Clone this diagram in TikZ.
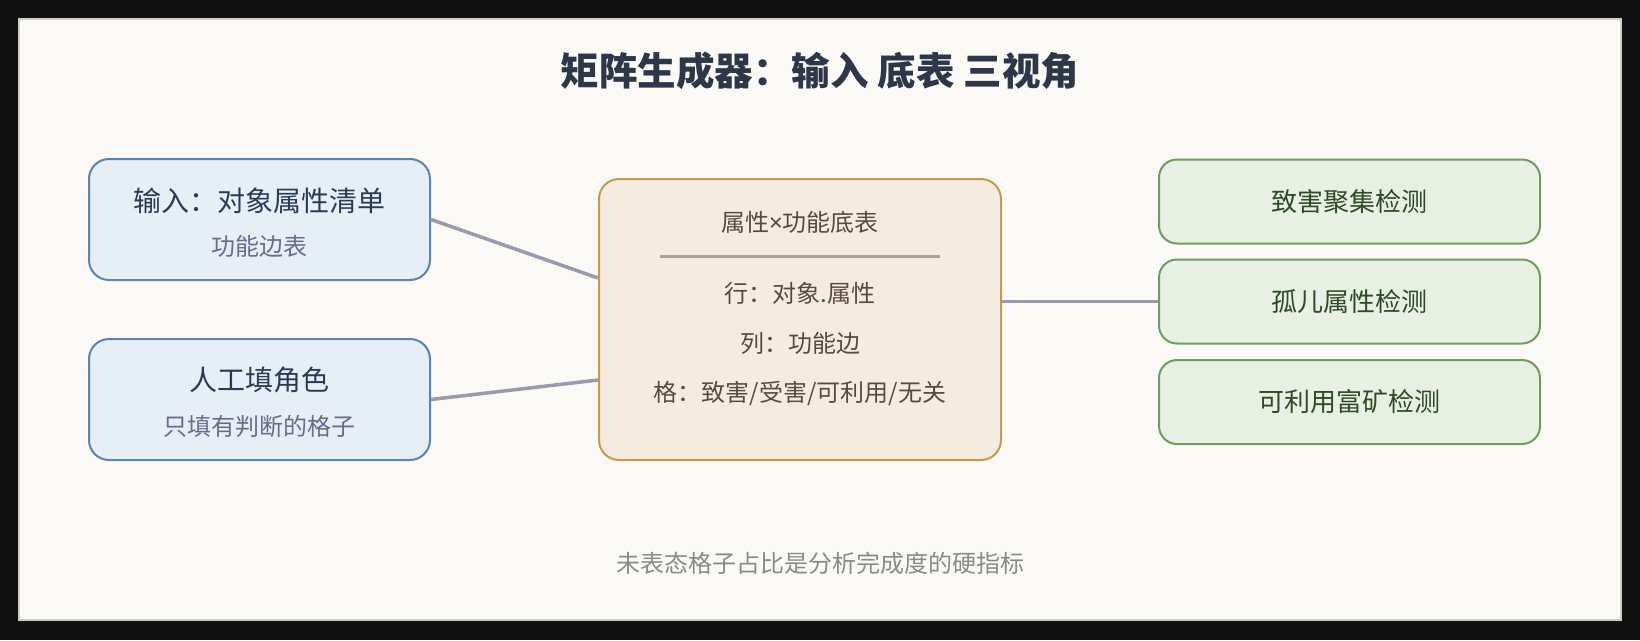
\documentclass[tikz,border=0pt]{standalone}
\usepackage{fontspec}
\setmainfont{Noto Sans CJK SC}
\newfontfamily\latinsans{Noto Sans}
\usetikzlibrary{positioning,calc}
\definecolor{bgdark}{HTML}{111111}
\definecolor{paper}{HTML}{FAF9F5}
\definecolor{frame}{HTML}{CFCCC4}
\definecolor{titlec}{HTML}{2D3748}
\definecolor{bluefill}{HTML}{E6EEF6}
\definecolor{blueline}{HTML}{5B84B1}
\definecolor{bluetext}{HTML}{2A3B55}
\definecolor{bluesub}{HTML}{6B6B8A}
\definecolor{tanfill}{HTML}{F5ECE1}
\definecolor{tanline}{HTML}{C49A50}
\definecolor{tantext}{HTML}{5A4A3C}
\definecolor{sepc}{HTML}{B0A292}
\definecolor{greenfill}{HTML}{E7F0E2}
\definecolor{greenline}{HTML}{6E9D5E}
\definecolor{greentext}{HTML}{2F4A25}
\definecolor{wire}{HTML}{9A9AAF}
\definecolor{notec}{HTML}{8A8A8A}
\tikzset{
  inbox/.style={draw=blueline, fill=bluefill, line width=2pt, rounded corners=20pt,
    minimum width=341pt, minimum height=121pt, inner sep=0pt},
  midbox/.style={draw=tanline, fill=tanfill, line width=2pt, rounded corners=20pt,
    minimum width=402pt, minimum height=281pt, inner sep=0pt},
  outbox/.style={draw=greenline, fill=greenfill, line width=2pt, rounded corners=18pt,
    minimum width=381pt, minimum height=84pt, inner sep=0pt, text=greentext,
    font=\fontsize{26}{30}\selectfont},
  wirec/.style={draw=wire, line width=3.5pt},
  maintxt/.style={text=bluetext, font=\fontsize{28}{32}\selectfont, inner sep=0pt},
  subtxt/.style={text=bluesub, font=\fontsize{24}{28}\selectfont, inner sep=0pt},
  midtxt/.style={text=tantext, font=\fontsize{24}{28}\selectfont, inner sep=0pt},
}
\begin{document}
\begin{tikzpicture}[x=1pt,y=-1pt]
\useasboundingbox (0,0) rectangle (1640,640);
\fill[bgdark] (0,0) rectangle (1640,640);
\draw[fill=paper, draw=frame, line width=1.5pt] (19,19) rectangle (1621,620);

\node[text=titlec, font=\fontsize{38.5}{42}\selectfont\bfseries, inner sep=0pt] (title) at (820,71) {矩阵生成器：输入 底表 三视角};

\node[inbox] (in1) at (259.5,219.5) {};
\node[maintxt] (in1a) at (259.5,201) {输入：对象属性清单};
\node[subtxt] (in1b) at (259.5,246) {功能边表};

\node[inbox] (in2) at (259.5,399.5) {};
\node[maintxt] (in2a) at (259.5,380) {人工填角色};
\node[subtxt] (in2b) at (259.5,426) {只填有判断的格子};

\node[midbox] (mid) at (800,319.5) {};
\node[midtxt] (midh) at (800,222) {属性{\latinsans ×}功能底表};
\coordinate (sepl) at (660,256);
\coordinate (sepr) at (940,256);
\draw[draw=sepc, line width=3pt] (sepl) -- (sepr);
\node[midtxt] (row) at (800,293) {行：对象.属性};
\node[midtxt] (col) at (800,343) {列：功能边};
\node[midtxt] (cell) at (800,393) {格：致害/受害/可利用/无关};

\node[outbox] (o1) at (1349.5,201.5) {致害聚集检测};
\node[outbox] (o2) at (1349.5,301.5) {孤儿属性检测};
\node[outbox] (o3) at (1349.5,402) {可利用富矿检测};

\draw[wirec] (in1.east) -- ([yshift=41.5pt]mid.west);
\draw[wirec] (in2.east) -- ([yshift=-60.5pt]mid.west);
\draw[wirec] (mid.east |- o2.west) -- (o2.west);

\node[text=notec, font=\fontsize{24}{28}\selectfont, inner sep=0pt] (note) at (820,563) {未表态格子占比是分析完成度的硬指标};
\end{tikzpicture}
\end{document}
